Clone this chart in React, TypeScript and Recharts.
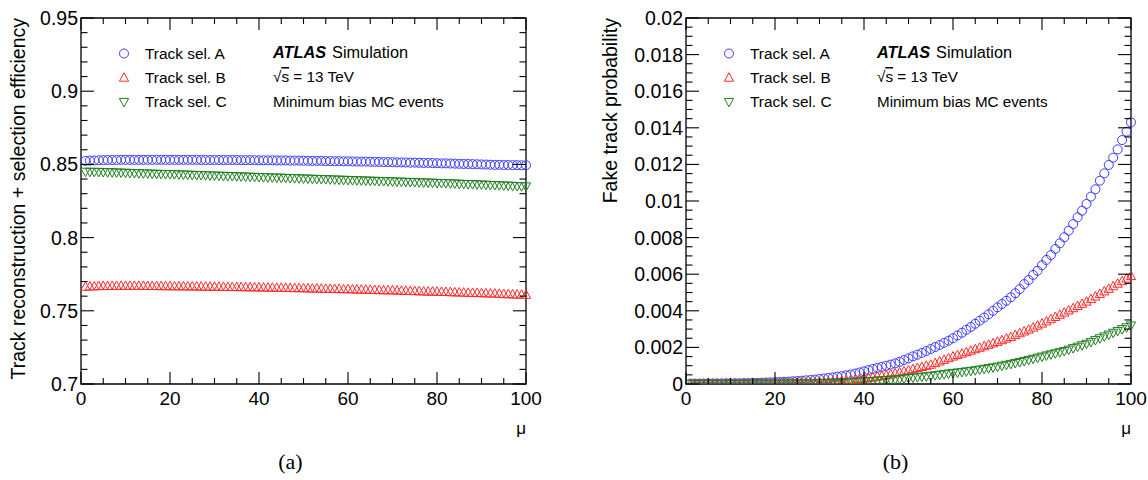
import React from 'react';
import { ScatterChart, Scatter, XAxis, YAxis, ReferenceArea, Legend } from 'recharts';

// pile-up values (x categories)
const mu = [
  1, 2, 3, 4, 5, 6, 7, 8, 9, 10, 11, 12, 13, 14, 15, 16, 17, 18, 19, 20,
  21, 22, 23, 24, 25, 26, 27, 28, 29, 30, 31, 32, 33, 34, 35, 36, 37, 38, 39, 40,
  41, 42, 43, 44, 45, 46, 47, 48, 49, 50, 51, 52, 53, 54, 55, 56, 57, 58, 59, 60,
  61, 62, 63, 64, 65, 66, 67, 68, 69, 70, 71, 72, 73, 74, 75, 76, 77, 78, 79, 80,
  81, 82, 83, 84, 85, 86, 87, 88, 89, 90, 91, 92, 93, 94, 95, 96, 97, 98, 99, 100,
];

// (a) efficiency
const effA = [
  0.8524, 0.8526, 0.8527, 0.8528, 0.8529, 0.853, 0.853, 0.853, 0.8531, 0.8531,
  0.8531, 0.8531, 0.8531, 0.8531, 0.8531, 0.8531, 0.8531, 0.8531, 0.8531, 0.8531,
  0.8531, 0.8531, 0.8531, 0.8531, 0.8531, 0.8531, 0.853, 0.853, 0.853, 0.853,
  0.853, 0.853, 0.853, 0.853, 0.853, 0.8529, 0.8529, 0.8529, 0.8529, 0.8528,
  0.8528, 0.8528, 0.8528, 0.8527, 0.8527, 0.8527, 0.8526, 0.8526, 0.8526, 0.8525,
  0.8525, 0.8524, 0.8524, 0.8524, 0.8523, 0.8523, 0.8522, 0.8522, 0.8521, 0.8521,
  0.852, 0.852, 0.8519, 0.8519, 0.8518, 0.8517, 0.8517, 0.8516, 0.8516, 0.8515,
  0.8514, 0.8514, 0.8513, 0.8512, 0.8512, 0.8511, 0.851, 0.851, 0.8509, 0.8508,
  0.8507, 0.8507, 0.8506, 0.8505, 0.8504, 0.8503, 0.8503, 0.8502, 0.8501, 0.85,
  0.8499, 0.8498, 0.8497, 0.8497, 0.8496, 0.8496, 0.8495, 0.8495, 0.8494, 0.8494,
];
const effB = [
  0.7664, 0.7666, 0.7667, 0.7668, 0.7669, 0.7669, 0.767, 0.767, 0.767, 0.767,
  0.767, 0.767, 0.767, 0.767, 0.7669, 0.7669, 0.7669, 0.7668, 0.7668, 0.7668,
  0.7667, 0.7667, 0.7667, 0.7666, 0.7666, 0.7666, 0.7665, 0.7665, 0.7664, 0.7664,
  0.7664, 0.7663, 0.7663, 0.7662, 0.7662, 0.7661, 0.7661, 0.766, 0.766, 0.7659,
  0.7659, 0.7658, 0.7658, 0.7657, 0.7657, 0.7656, 0.7655, 0.7655, 0.7654, 0.7654,
  0.7653, 0.7652, 0.7652, 0.7651, 0.765, 0.765, 0.7649, 0.7648, 0.7647, 0.7647,
  0.7646, 0.7645, 0.7644, 0.7644, 0.7643, 0.7642, 0.7641, 0.764, 0.764, 0.7639,
  0.7638, 0.7637, 0.7636, 0.7635, 0.7634, 0.7633, 0.7632, 0.7631, 0.7631, 0.763,
  0.7629, 0.7628, 0.7627, 0.7626, 0.7625, 0.7624, 0.7623, 0.7622, 0.7621, 0.762,
  0.7619, 0.7618, 0.7617, 0.7616, 0.7614, 0.7613, 0.7612, 0.7611, 0.761, 0.7609,
];
const effC = [
  0.845, 0.845, 0.8449, 0.8449, 0.8448, 0.8447, 0.8446, 0.8445, 0.8444, 0.8443,
  0.8442, 0.8441, 0.844, 0.8439, 0.8438, 0.8437, 0.8436, 0.8435, 0.8434, 0.8434,
  0.8433, 0.8432, 0.8431, 0.843, 0.8429, 0.8428, 0.8427, 0.8426, 0.8425, 0.8424,
  0.8423, 0.8422, 0.8421, 0.842, 0.8419, 0.8418, 0.8417, 0.8416, 0.8415, 0.8414,
  0.8413, 0.8412, 0.8411, 0.841, 0.8409, 0.8408, 0.8407, 0.8406, 0.8405, 0.8404,
  0.8403, 0.8402, 0.8401, 0.84, 0.8399, 0.8398, 0.8397, 0.8396, 0.8395, 0.8394,
  0.8393, 0.8392, 0.8391, 0.839, 0.8389, 0.8388, 0.8387, 0.8386, 0.8385, 0.8384,
  0.8383, 0.8382, 0.8381, 0.838, 0.8379, 0.8378, 0.8377, 0.8376, 0.8375, 0.8374,
  0.8373, 0.8372, 0.8371, 0.837, 0.8368, 0.8367, 0.8366, 0.8365, 0.8364, 0.8363,
  0.8361, 0.836, 0.8359, 0.8358, 0.8356, 0.8355, 0.8354, 0.8352, 0.8351, 0.835,
];

// (b) fake rate
const fakeA = [
  0.00002, 0.00002, 0.00002, 0.00002, 0.00003, 0.00003, 0.00003, 0.00003, 0.00004, 0.00004,
  0.00004, 0.00004, 0.00005, 0.00005, 0.00006, 0.00006, 0.00007, 0.00008, 0.00009, 0.0001,
  0.00011, 0.00012, 0.00013, 0.00015, 0.00016, 0.00018, 0.0002, 0.00022, 0.00024, 0.00027,
  0.0003, 0.00033, 0.00036, 0.0004, 0.00043, 0.00047, 0.00052, 0.00057, 0.00063, 0.00069,
  0.00076, 0.00082, 0.00088, 0.00094, 0.001, 0.00106, 0.00113, 0.00121, 0.00131, 0.0014,
  0.00151, 0.0016, 0.0017, 0.0018, 0.00191, 0.00202, 0.00213, 0.00225, 0.00237, 0.0025,
  0.00265, 0.0028, 0.00296, 0.00312, 0.00329, 0.00346, 0.00363, 0.00381, 0.004, 0.00419,
  0.00437, 0.00455, 0.00474, 0.00496, 0.00519, 0.00546, 0.00568, 0.00596, 0.00619, 0.00649,
  0.00678, 0.00705, 0.00738, 0.00769, 0.00802, 0.00838, 0.00874, 0.00911, 0.00947, 0.00984,
  0.01024, 0.01064, 0.01111, 0.01151, 0.01197, 0.01237, 0.01282, 0.01333, 0.01379, 0.0143,
];
const fakeB = [
  0.00001, 0.00001, 0.00001, 0.00001, 0.00001, 0.00001, 0.00001, 0.00001, 0.00001, 0.00001,
  0.00001, 0.00001, 0.00002, 0.00002, 0.00002, 0.00003, 0.00003, 0.00004, 0.00004, 0.00005,
  0.00005, 0.00006, 0.00006, 0.00007, 0.00007, 0.00008, 0.00008, 0.00009, 0.00009, 0.0001,
  0.00011, 0.00012, 0.00014, 0.00015, 0.00017, 0.00019, 0.00021, 0.00023, 0.00026, 0.00029,
  0.00032, 0.00036, 0.0004, 0.00044, 0.00048, 0.00053, 0.00058, 0.00063, 0.00069, 0.00075,
  0.00081, 0.00087, 0.00093, 0.00099, 0.00105, 0.00114, 0.00123, 0.00132, 0.00141, 0.0015,
  0.00158, 0.00166, 0.00174, 0.00182, 0.0019, 0.00198, 0.00206, 0.00214, 0.00222, 0.0023,
  0.00239, 0.00248, 0.00257, 0.00267, 0.00277, 0.00287, 0.00297, 0.00308, 0.00319, 0.0033,
  0.00342, 0.00354, 0.00366, 0.00378, 0.0039, 0.00402, 0.00414, 0.00426, 0.00438, 0.0045,
  0.00464, 0.00478, 0.00492, 0.00506, 0.0052, 0.00534, 0.00548, 0.00562, 0.00576, 0.0059,
];
const fakeC = [
  0.00001, 0.00001, 0.00001, 0.00001, 0.00001, 0.00001, 0.00001, 0.00001, 0.00001, 0.00001,
  0.00001, 0.00001, 0.00001, 0.00001, 0.00002, 0.00002, 0.00002, 0.00002, 0.00002, 0.00002,
  0.00002, 0.00003, 0.00003, 0.00003, 0.00003, 0.00004, 0.00004, 0.00004, 0.00005, 0.00005,
  0.00006, 0.00006, 0.00007, 0.00008, 0.00009, 0.0001, 0.00011, 0.00012, 0.00013, 0.00015,
  0.00016, 0.00017, 0.00019, 0.0002, 0.00022, 0.00024, 0.00026, 0.00028, 0.0003, 0.00033,
  0.00035, 0.00037, 0.0004, 0.00042, 0.00045, 0.00048, 0.00051, 0.00054, 0.00057, 0.0006,
  0.00063, 0.00066, 0.00069, 0.00072, 0.00075, 0.00079, 0.00083, 0.00087, 0.00091, 0.00095,
  0.001, 0.00105, 0.0011, 0.00115, 0.0012, 0.00126, 0.00132, 0.00138, 0.00144, 0.0015,
  0.00156, 0.00162, 0.00168, 0.00174, 0.0018, 0.00188, 0.00196, 0.00204, 0.00212, 0.0022,
  0.0023, 0.0024, 0.0025, 0.0026, 0.0027, 0.0028, 0.0029, 0.003, 0.0031, 0.0032,
];

const seriesNames = ['Track sel. A', 'Track sel. B', 'Track sel. C'];
const seriesColors = ['#3b3bff', '#ff2a2a', '#1f7f1f'];
const seriesShapes = ['circle', 'up', 'down'];

const xMajor = [0, 20, 40, 60, 80, 100];
const xMinor = [5, 10, 15, 25, 30, 35, 45, 50, 55, 65, 70, 75, 85, 90, 95];
const effMajor = [0.7, 0.75, 0.8, 0.85, 0.9, 0.95];
const effMinor = [
  0.71, 0.72, 0.73, 0.74, 0.76, 0.77, 0.78, 0.79, 0.81, 0.82,
  0.83, 0.84, 0.86, 0.87, 0.88, 0.89, 0.91, 0.92, 0.93, 0.94,
];
const fakeMajor = [0, 0.002, 0.004, 0.006, 0.008, 0.01, 0.012, 0.014, 0.016, 0.018, 0.02];
const fakeMinor = [
  0.0005, 0.001, 0.0015, 0.0025, 0.003, 0.0035, 0.0045, 0.005, 0.0055, 0.0065,
  0.007, 0.0075, 0.0085, 0.009, 0.0095, 0.0105, 0.011, 0.0115, 0.0125, 0.013,
  0.0135, 0.0145, 0.015, 0.0155, 0.0165, 0.017, 0.0175, 0.0185, 0.019, 0.0195,
];

const FONT = '"Liberation Sans", Arial, Helvetica, sans-serif';
const W = 574;
const H = 480;
const TOP = 18;
const BOTTOM = 384;

function Marker({ kind, cx, cy, color }: { kind: string; cx: number; cy: number; color: string }) {
  if (kind === 'circle') {
    return <circle cx={cx} cy={cy} r={4.5} fill="none" stroke={color} strokeWidth={1} />;
  }
  const pts =
    kind === 'up'
      ? `${cx},${cy - 5} ${cx - 4.6},${cy + 3.5} ${cx + 4.6},${cy + 3.5}`
      : `${cx},${cy + 5} ${cx - 4.6},${cy - 3.5} ${cx + 4.6},${cy - 3.5}`;
  return <polygon points={pts} fill="none" stroke={color} strokeWidth={1} />;
}

function makeXTick() {
  return (props: any) => {
    const { x, payload } = props;
    const major = xMajor.includes(payload.value);
    const len = major ? 12 : 6;
    return (
      <g>
        <line x1={x} x2={x} y1={BOTTOM} y2={BOTTOM - len} stroke="#000" strokeWidth={1.1} />
        <line x1={x} x2={x} y1={TOP} y2={TOP + len} stroke="#000" strokeWidth={1.1} />
        {major && (
          <text x={x} y={BOTTOM + 21} textAnchor="middle" fontFamily={FONT} fontSize={19} fill="#000">
            {payload.value}
          </text>
        )}
      </g>
    );
  };
}

function makeYTick(majorTicks: number[], left: number, right: number) {
  return (props: any) => {
    const { y, payload } = props;
    const major = majorTicks.includes(payload.value);
    const len = major ? 13 : 6.5;
    return (
      <g>
        <line x1={left} x2={left + len} y1={y} y2={y} stroke="#000" strokeWidth={1.1} />
        <line x1={right} x2={right - len} y1={y} y2={y} stroke="#000" strokeWidth={1.1} />
        {major && (
          <text x={left - 3} y={y} dy="0.36em" textAnchor="end" fontFamily={FONT} fontSize={19.5} fill="#000">
            {String(payload.value)}
          </text>
        )}
      </g>
    );
  };
}

function renderLegend(props: any) {
  const items = props.payload ?? [];
  return (
    <svg width={170} height={80} style={{ overflow: 'visible' }}>
      {items.map((it: any) => {
        const i = seriesNames.indexOf(it.value);
        return (
          <g key={it.value}>
            <Marker kind={seriesShapes[i]} cx={14} cy={13.5 + i * 24.2} color={seriesColors[i]} />
            <text x={35} y={18.5 + i * 24.4} fontFamily={FONT} fontSize={15.4} fill="#000">
              {it.value}
            </text>
          </g>
        );
      })}
    </svg>
  );
}

interface PanelProps {
  left: number;
  plotLeft: number;
  plotRight: number;
  series: number[][];
  domain: [number, number];
  major: number[];
  minor: number[];
  title: string;
  tag: string;
  atlasX: number;
  titleX: number;
}

function Panel({ left, plotLeft, plotRight, series, domain, major, minor, title, tag, atlasX, titleX }: PanelProps) {
  return (
    <div style={{ position: 'absolute', left, top: 0, width: W, height: H }}>
      <ScatterChart
        width={W}
        height={H}
        margin={{ top: TOP, right: W - plotRight, bottom: 0, left: 0 }}
      >
        <XAxis
          type="number"
          dataKey="mu"
          domain={[0, 100]}
          ticks={[...xMajor, ...xMinor]}
          interval={0}
          height={H - BOTTOM}
          axisLine={false}
          tickLine={false}
          tick={makeXTick()}
        />
        <YAxis
          type="number"
          dataKey="v"
          domain={domain}
          ticks={[...major, ...minor]}
          interval={0}
          width={plotLeft}
          axisLine={false}
          tickLine={false}
          tick={makeYTick(major, plotLeft, plotRight)}
          allowDataOverflow
        />
        <ReferenceArea
          x1={0}
          x2={100}
          y1={domain[0]}
          y2={domain[1]}
          fill="none"
          stroke="#000"
          strokeWidth={1.3}
          ifOverflow="visible"
        />
        <Legend
          layout="vertical"
          align="center"
          verticalAlign="middle"
          content={renderLegend}
          wrapperStyle={{ left: plotLeft + 29, top: 40, width: 170, height: 80 }}
        />
        {series.map((vals, i) => (
          <Scatter
            key={seriesNames[i]}
            name={seriesNames[i]}
            data={mu.map((m, j) => ({ mu: m, v: vals[j] }))}
            fill={seriesColors[i]}
            isAnimationActive={false}
            shape={(p: any) => <Marker kind={seriesShapes[i]} cx={p.cx} cy={p.cy} color={seriesColors[i]} />}
          />
        ))}
      </ScatterChart>
      <svg
        width={W}
        height={H}
        style={{ position: 'absolute', left: 0, top: 0, pointerEvents: 'none' }}
      >
        <text
          transform={`translate(${titleX},${TOP}) rotate(-90)`}
          textAnchor="end"
          fontFamily={FONT}
          fontSize={19.5}
          fill="#000"
        >
          {title}
        </text>
        <text x={plotRight} y={434} textAnchor="end" fontFamily={FONT} fontSize={17} fill="#000">
          μ
        </text>
        <text
          x={(plotLeft + plotRight) / 2 - 13}
          y={469}
          textAnchor="middle"
          fontFamily='"Liberation Serif", "Times New Roman", serif'
          fontSize={22}
          fill="#000"
        >
          {tag}
        </text>
        <text x={atlasX} y={58} fontFamily={FONT} fontSize={16.3} fill="#000">
          <tspan fontWeight="bold" fontStyle="italic">ATLAS</tspan>
          <tspan dx={6}>Simulation</tspan>
        </text>
        <text x={atlasX} y={82} fontFamily={FONT} fontSize={15.3} fill="#000">
          √<tspan style={{ textDecoration: 'overline' }}>s</tspan> = 13 TeV
        </text>
        <text x={atlasX} y={106.5} fontFamily={FONT} fontSize={15.2} fill="#000">
          Minimum bias MC events
        </text>
      </svg>
    </div>
  );
}

export default function App() {
  return (
    <div style={{ position: 'absolute', left: 0, top: 0, width: 1148, height: 480, background: '#fff' }}>
      <Panel
        left={0}
        plotLeft={81}
        plotRight={526}
        series={[effA, effB, effC]}
        domain={[0.7, 0.95]}
        major={effMajor}
        minor={effMinor}
        title="Track reconstruction + selection efficiency"
        tag="(a)"
        atlasX={273}
        titleX={25}
      />
      <Panel
        left={574}
        plotLeft={112}
        plotRight={557}
        series={[fakeA, fakeB, fakeC]}
        domain={[0, 0.02]}
        major={fakeMajor}
        minor={fakeMinor}
        title="Fake track probability"
        tag="(b)"
        atlasX={303}
        titleX={43}
      />
    </div>
  );
}
